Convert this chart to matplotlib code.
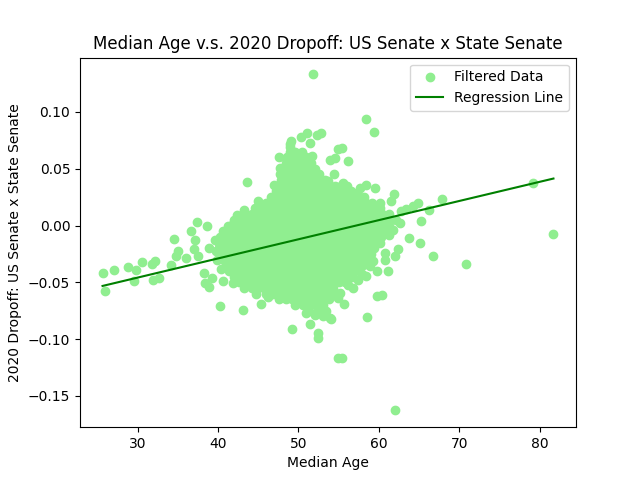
import matplotlib
matplotlib.use("Agg")
import matplotlib.pyplot as plt
import numpy as np

# scattered points around the main cloud (median age, dropoff)
tail_points = [
    (25.64, -0.042), (25.9, -0.058), (27.1, -0.039), (28.75, -0.0365), (29.8, -0.039),
    (30.55, -0.032), (29.55, -0.049), (31.8, -0.0335), (32.2, -0.031), (31.87, -0.048),
    (32.6, -0.046), (34.16, -0.035), (34.5, -0.0115), (35.0, -0.0227), (34.8, -0.0265),
    (36.0, -0.0285), (36.65, -0.0044), (37.1, -0.013), (37.06, -0.021), (37.35, 0.0035),
    (38.6, -0.0003), (37.5, -0.027), (38.3, -0.042), (38.4, -0.0506), (38.84, -0.054),
    (39.3, -0.046), (40.67, -0.049), (40.2, -0.0712), (43.1, -0.074), (45.37, -0.069),
    (43.57, 0.0386), (39.6, -0.0124), (39.9, -0.030), (38.9, -0.020), (41.8, 0.001),
    (44.1, 0.0024), (45.15, 0.017), (46.4, 0.0185), (47.65, 0.026),
]

top_points = [
    (51.8, 0.133), (58.36, 0.094), (59.35, 0.082), (47.56, 0.0606), (47.65, 0.051),
    (47.65, 0.045), (49.1, 0.0744), (48.98, 0.0694), (50.26, 0.078), (51.05, 0.0818),
    (51.4, 0.0724), (52.3, 0.0794), (52.84, 0.0818), (54.9, 0.067), (55.45, 0.068),
    (53.9, 0.0574), (54.5, 0.0591), (56.2, 0.0565), (51.7, 0.061), (49.3, 0.0597),
    (54.4, 0.0456), (58.4, 0.036), (59.5, 0.033), (57.7, 0.033), (61.85, 0.028),
    (53.66, 0.039), (55.5, 0.037), (49.0, 0.0715), (49.3, 0.052), (56.3, 0.030),
]

right_points = [
    (79.2, 0.0377), (81.7, -0.0071), (70.8, -0.0335), (66.7, -0.027), (67.8, 0.023),
    (66.2, 0.0141), (64.9, 0.0194), (64.25, 0.017), (65.2, 0.0038), (63.8, -0.0109),
    (65.1, -0.0153), (62.6, 0.0024), (61.1, -0.0397), (62.0, -0.027), (62.4, -0.021),
    (59.7, -0.062), (60.4, -0.0612), (58.5, -0.0806), (54.9, -0.117), (55.4, -0.117),
    (62.0, -0.1627), (52.4, -0.095), (52.4, -0.099), (51.4, -0.087), (53.9, -0.0815),
    (53.0, -0.080), (55.6, -0.069), (58.4, -0.0447), (57.4, -0.048), (56.15, -0.052),
    (49.2, -0.091), (50.97, -0.077), (52.1, -0.0786), (54.0, -0.0824), (58.85, -0.036),
    (61.3, -0.008), (60.7, -0.002), (62.8, 0.0126), (63.4, 0.0147), (61.55, 0.0215),
    (60.1, 0.020), (60.8, -0.030), (59.8, -0.040),
]

# points along the rim of the dense cloud
edge_points = [
    (45.0, 0.022), (43.2, 0.014), (42.4, 0.009), (47.0, 0.036), (56.0, 0.035),
    (57.3, 0.029), (60.5, 0.009), (61.8, -0.004), (60.7, -0.024), (59.3, -0.031),
    (57.9, -0.043), (56.8, -0.055), (55.2, -0.059), (54.9, -0.064), (46.2, -0.063),
    (44.7, -0.060), (43.2, -0.055), (41.8, -0.051), (40.4, -0.038), (39.8, -0.022),
]

# dense cloud, one row of ages per dropoff level
core_levels = [0.065, 0.060, 0.055, 0.050, 0.045, 0.040, 0.035, 0.030, 0.025, 0.020,
               0.015, 0.010, 0.005, 0.000, -0.005, -0.010, -0.015, -0.020, -0.025,
               -0.030, -0.035, -0.040, -0.045, -0.050, -0.055, -0.060, -0.065,
               -0.070, -0.075]
core_ages = [
    [48.9, 49.6, 50.4],
    [48.6, 49.3, 50.1, 50.9],
    [48.4, 49.1, 49.9, 50.7, 51.5],
    [48.2, 48.9, 49.7, 50.5, 51.3, 52.0],
    [48.0, 48.8, 49.5, 50.3, 51.1, 51.9, 52.6],
    [47.8, 48.6, 49.4, 50.1, 50.9, 51.7, 52.5, 53.3],
    [47.6, 48.3, 49.1, 49.9, 50.7, 51.5, 52.2, 53.0, 53.8, 54.6, 55.3],
    [47.2, 47.9, 48.7, 49.5, 50.3, 51.0, 51.8, 52.6, 53.4, 54.1, 54.9, 55.7, 56.5],
    [46.6, 47.4, 48.2, 48.9, 49.7, 50.5, 51.3, 52.0, 52.8, 53.6, 54.4, 55.1, 55.9,
     56.7, 57.5, 58.2],
    [46.0, 46.8, 47.5, 48.3, 49.1, 49.9, 50.6, 51.4, 52.2, 53.0, 53.7, 54.5, 55.3,
     56.1, 56.8, 57.6, 58.4, 59.2],
    [44.6, 45.4, 46.1, 46.9, 47.7, 48.5, 49.2, 50.0, 50.8, 51.6, 52.3, 53.1, 53.9,
     54.7, 55.4, 56.2, 57.0, 57.8, 58.5, 59.3, 60.1],
    [43.4, 44.2, 44.9, 45.7, 46.5, 47.3, 48.0, 48.8, 49.6, 50.4, 51.1, 51.9, 52.7,
     53.5, 54.2, 55.0, 55.8, 56.6, 57.3, 58.1, 58.9, 59.7, 60.4, 61.2],
    [42.0, 42.8, 43.6, 44.3, 45.1, 45.9, 46.7, 47.4, 48.2, 49.0, 49.8, 50.5, 51.3,
     52.1, 52.9, 53.6, 54.4, 55.2, 56.0, 56.7, 57.5, 58.3, 59.1, 59.8, 60.6, 61.4, 62.1],
    [41.2, 42.0, 42.7, 43.5, 44.3, 45.1, 45.8, 46.6, 47.4, 48.2, 48.9, 49.7, 50.5,
     51.3, 52.0, 52.8, 53.6, 54.4, 55.1, 55.9, 56.7, 57.5, 58.2, 59.0, 59.8, 60.6, 61.3],
    [40.6, 41.4, 42.1, 42.9, 43.7, 44.5, 45.2, 46.0, 46.8, 47.6, 48.3, 49.1, 49.9,
     50.7, 51.4, 52.2, 53.0, 53.8, 54.5, 55.3, 56.1, 56.9, 57.6, 58.4, 59.2, 60.0,
     60.7, 61.3],
    [40.3, 41.0, 41.8, 42.6, 43.4, 44.1, 44.9, 45.7, 46.5, 47.2, 48.0, 48.8, 49.6,
     50.3, 51.1, 51.9, 52.7, 53.4, 54.2, 55.0, 55.8, 56.5, 57.3, 58.1, 58.9, 59.6, 60.3],
    [40.1, 40.9, 41.6, 42.4, 43.2, 44.0, 44.7, 45.5, 46.3, 47.1, 47.8, 48.6, 49.4,
     50.2, 50.9, 51.7, 52.5, 53.3, 54.0, 54.8, 55.6, 56.4, 57.1, 57.9, 58.7, 59.5, 60.1],
    [40.1, 40.8, 41.6, 42.4, 43.2, 43.9, 44.7, 45.5, 46.3, 47.0, 47.8, 48.6, 49.4,
     50.1, 50.9, 51.7, 52.5, 53.2, 54.0, 54.8, 55.6, 56.3, 57.1, 57.9, 58.7, 59.4],
    [40.4, 41.2, 41.9, 42.7, 43.5, 44.3, 45.0, 45.8, 46.6, 47.4, 48.1, 48.9, 49.7,
     50.5, 51.2, 52.0, 52.8, 53.6, 54.3, 55.1, 55.9, 56.7, 57.4, 58.2, 59.0],
    [40.8, 41.6, 42.3, 43.1, 43.9, 44.7, 45.4, 46.2, 47.0, 47.8, 48.5, 49.3, 50.1,
     50.9, 51.6, 52.4, 53.2, 54.0, 54.7, 55.5, 56.3, 57.1, 57.8, 58.6],
    [41.0, 41.8, 42.6, 43.3, 44.1, 44.9, 45.7, 46.4, 47.2, 48.0, 48.8, 49.5, 50.3,
     51.1, 51.9, 52.6, 53.4, 54.2, 55.0, 55.7, 56.5, 57.3, 58.0],
    [41.4, 42.2, 42.9, 43.7, 44.5, 45.3, 46.0, 46.8, 47.6, 48.4, 49.1, 49.9, 50.7,
     51.5, 52.2, 53.0, 53.8, 54.6, 55.3, 56.1, 56.9, 57.5],
    [42.0, 42.8, 43.5, 44.3, 45.1, 45.9, 46.6, 47.4, 48.2, 49.0, 49.7, 50.5, 51.3,
     52.1, 52.8, 53.6, 54.4, 55.2, 55.9, 56.6],
    [42.6, 43.4, 44.1, 44.9, 45.7, 46.5, 47.2, 48.0, 48.8, 49.6, 50.3, 51.1, 51.9,
     52.7, 53.4, 54.2, 55.0, 55.8],
    [44.2, 45.0, 45.7, 46.5, 47.3, 48.1, 48.8, 49.6, 50.4, 51.2, 51.9, 52.7, 53.5, 54.3],
    [46.0, 46.8, 47.5, 48.3, 49.1, 49.9, 50.6, 51.4, 52.2, 53.0, 53.7, 54.3],
    [47.6, 48.4, 49.2, 49.9, 50.7, 51.5, 52.3, 53.0, 53.8],
    [49.6, 50.5, 51.3, 52.2, 53.1],
    [51.3, 52.4, 53.4],
]

# regression fit
slope = 0.001686
intercept = -0.0964

pts = tail_points + top_points + right_points + edge_points
ages = [p[0] for p in pts]
drops = [p[1] for p in pts]
for lvl, row in zip(core_levels, core_ages):
    for a in row:
        ages.append(a)
        drops.append(lvl)
ages = np.array(ages)
drops = np.array(drops)

fig = plt.figure(figsize=(6.4, 4.8), dpi=100)
ax = fig.add_subplot(111)
ax.scatter(ages, drops, color='lightgreen', label='Filtered Data')
line_x = np.array([ages.min(), ages.max()])
ax.plot(line_x, slope * line_x + intercept, color='green', label='Regression Line')

ax.set_title('Median Age v.s. 2020 Dropoff: US Senate x State Senate')
ax.set_xlabel('Median Age')
ax.set_ylabel('2020 Dropoff: US Senate x State Senate')
ax.legend(loc='upper right')

plt.savefig('out.png')
